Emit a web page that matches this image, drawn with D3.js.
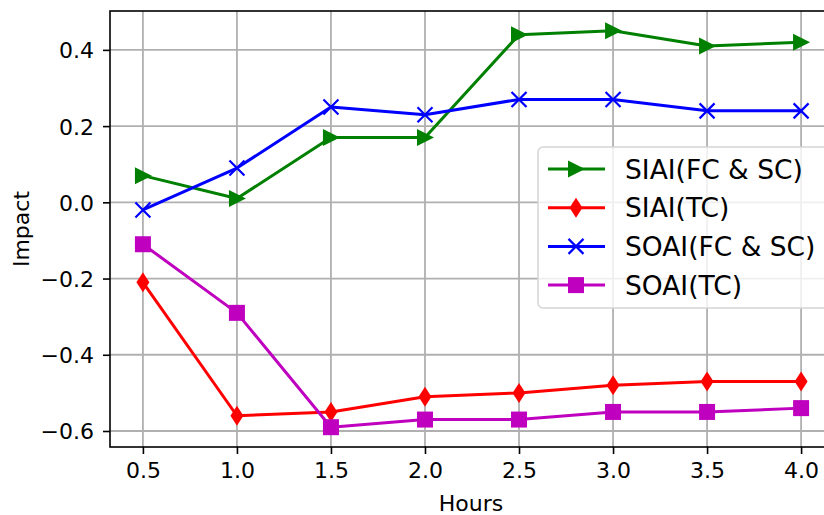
<!DOCTYPE html>
<html>
<head>
<meta charset="utf-8">
<script src="https://d3js.org/d3.v7.min.js"></script>
<style>
  body { margin: 0; background: #fff; }
  text { font-family: "DejaVu Sans", sans-serif; fill: #000; }
</style>
</head>
<body>
<div id="chart"></div>
<script>
// data
var hours = [0.5, 1.0, 1.5, 2.0, 2.5, 3.0, 3.5, 4.0];
var siaiFcSc = [0.07, 0.01, 0.17, 0.17, 0.44, 0.45, 0.41, 0.42];
var siaiTc = [-0.21, -0.56, -0.55, -0.51, -0.50, -0.48, -0.47, -0.47];
var soaiFcSc = [-0.02, 0.09, 0.25, 0.23, 0.27, 0.27, 0.24, 0.24];
var soaiTc = [-0.11, -0.29, -0.59, -0.57, -0.57, -0.55, -0.55, -0.54];
var seriesNames = ["SIAI(FC & SC)", "SIAI(TC)", "SOAI(FC & SC)", "SOAI(TC)"];
var xTicks = [0.5, 1.0, 1.5, 2.0, 2.5, 3.0, 3.5, 4.0];
var yTicks = [-0.6, -0.4, -0.2, 0.0, 0.2, 0.4];

var series = [
  { name: seriesNames[0], values: siaiFcSc, color: "#008000", marker: "tri" },
  { name: seriesNames[1], values: siaiTc, color: "#ff0000", marker: "diamond" },
  { name: seriesNames[2], values: soaiFcSc, color: "#0000ff", marker: "x" },
  { name: seriesNames[3], values: soaiTc, color: "#bf00bf", marker: "square" }
];

var W = 824, H = 515;
var pLeft = 110, pRight = 834, pTop = 11, pBottom = 447;

var svg = d3.select("#chart").append("svg")
  .attr("width", W).attr("height", H);

var x = d3.scaleLinear().domain([0.325, 4.175]).range([pLeft, pRight]);
var y = d3.scaleLinear().domain([-0.642, 0.502]).range([pBottom, pTop]);

// grid
svg.append("g").selectAll("line").data(xTicks).join("line")
  .attr("x1", d => x(d)).attr("x2", d => x(d))
  .attr("y1", pTop).attr("y2", pBottom)
  .attr("stroke", "#b0b0b0").attr("stroke-width", 1.8);
svg.append("g").selectAll("line").data(yTicks).join("line")
  .attr("x1", pLeft).attr("x2", pRight)
  .attr("y1", d => y(d)).attr("y2", d => y(d))
  .attr("stroke", "#b0b0b0").attr("stroke-width", 1.8);

// axes
var fmt = d => d3.format(".1f")(d).replace("-", "\u2212");
var xAxis = svg.append("g")
  .attr("transform", `translate(0,${pBottom})`)
  .call(d3.axisBottom(x).tickValues(xTicks).tickFormat(d3.format(".1f")).tickSize(7).tickPadding(8));
var yAxis = svg.append("g")
  .attr("transform", `translate(${pLeft},0)`)
  .call(d3.axisLeft(y).tickValues(yTicks).tickFormat(fmt).tickSize(7).tickPadding(9));
[xAxis, yAxis].forEach(function (a) {
  a.select(".domain").remove();
  a.selectAll("line").attr("stroke", "#000").attr("stroke-width", 1.6);
  a.selectAll("text").style("font-size", "22px").style("font-family", "DejaVu Sans");
});
yAxis.selectAll("text").attr("dy", "0.36em");
xAxis.selectAll("text").attr("dy", "0.72em");

// spines
svg.append("rect")
  .attr("x", pLeft).attr("y", pTop)
  .attr("width", pRight - pLeft).attr("height", pBottom - pTop)
  .attr("fill", "none").attr("stroke", "#000").attr("stroke-width", 1.6);

// axis labels
svg.append("text").attr("x", 471).attr("y", 511)
  .attr("text-anchor", "middle").style("font-size", "22px").text("Hours");
svg.append("text")
  .attr("transform", `translate(29,${(pTop + pBottom) / 2}) rotate(-90)`)
  .attr("text-anchor", "middle").style("font-size", "22px").text("Impact");

function drawMarker(g, type, color) {
  if (type === "tri") {
    g.append("path").attr("d", "M-8,-8.5 L9,0 L-8,8.5 Z").attr("fill", color);
  } else if (type === "diamond") {
    g.append("path").attr("d", "M0,-10 L6.5,0 L0,10 L-6.5,0 Z").attr("fill", color);
  } else if (type === "x") {
    g.append("path").attr("d", "M-7.5,-7.5 L7.5,7.5 M-7.5,7.5 L7.5,-7.5")
      .attr("stroke", color).attr("stroke-width", 2.2).attr("fill", "none");
  } else {
    g.append("rect").attr("x", -8).attr("y", -8).attr("width", 16).attr("height", 16).attr("fill", color);
  }
}

var line = d3.line().x((d, i) => x(hours[i])).y(d => y(d));

series.forEach(function (s) {
  var g = svg.append("g");
  g.append("path").datum(s.values).attr("d", line)
    .attr("fill", "none").attr("stroke", s.color).attr("stroke-width", 3)
    .attr("stroke-linejoin", "round");
  s.values.forEach(function (v, i) {
    var m = g.append("g").attr("transform", `translate(${x(hours[i])},${y(v)})`);
    drawMarker(m, s.marker, s.color);
  });
});

// legend
var lg = svg.append("g");
lg.append("rect").attr("x", 538).attr("y", 147).attr("width", 300).attr("height", 161)
  .attr("rx", 5).attr("fill", "#fff").attr("fill-opacity", 0.8)
  .attr("stroke", "#d5d5d5").attr("stroke-width", 1.5);
series.forEach(function (s, i) {
  var cy = 169 + i * 38.7;
  lg.append("line").attr("x1", 548).attr("x2", 605).attr("y1", cy).attr("y2", cy)
    .attr("stroke", s.color).attr("stroke-width", 3);
  drawMarker(lg.append("g").attr("transform", `translate(576,${cy})`), s.marker, s.color);
  lg.append("text").attr("x", 625).attr("y", cy).attr("dy", "0.36em")
    .style("font-size", "26.5px").text(s.name);
});
</script>
</body>
</html>
